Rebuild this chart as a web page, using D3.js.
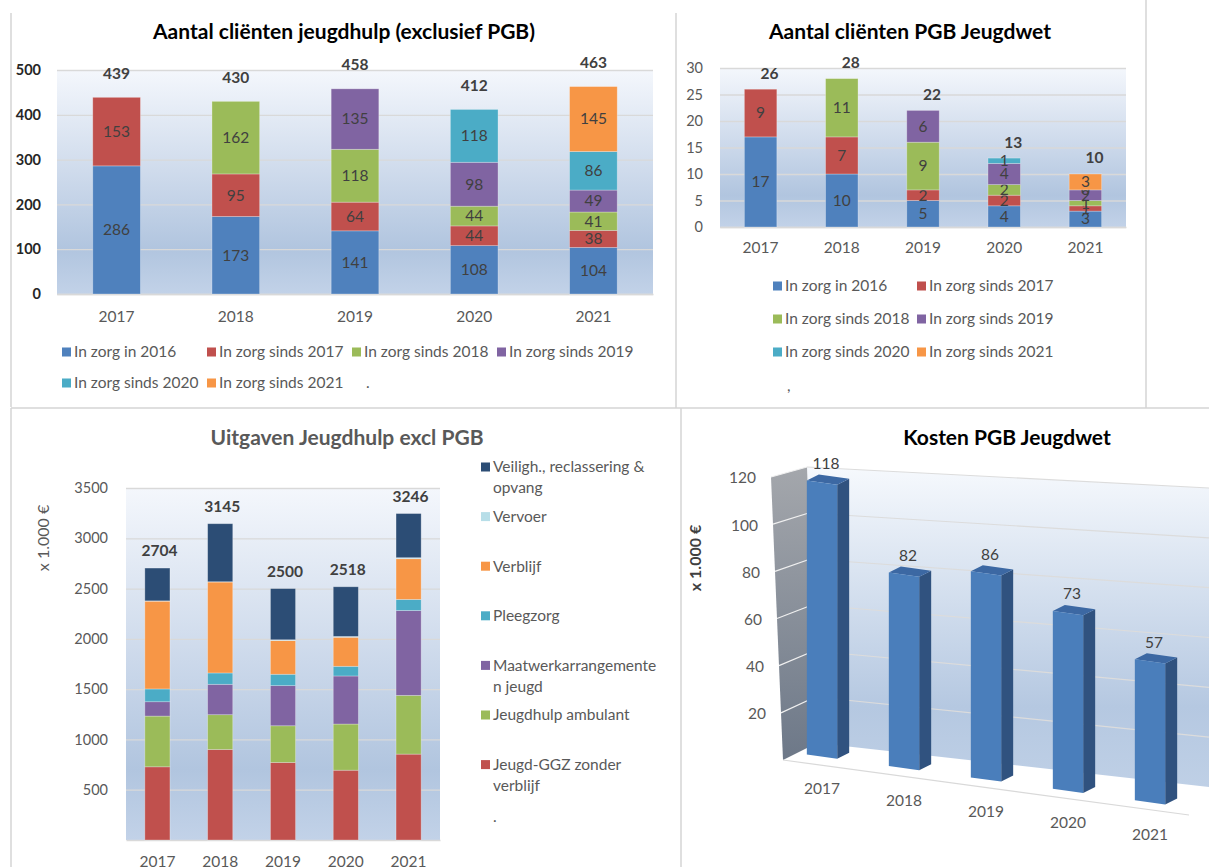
<!DOCTYPE html>
<html><head><meta charset="utf-8">
<script src="https://cdn.jsdelivr.net/npm/d3@7"></script>
<style>
html,body{margin:0;padding:0;background:#fff;}
svg{display:block;}
</style></head><body>
<svg id="c" width="1209" height="867"></svg>
<script>
// ---------- DATA ----------
const years = ["2017","2018","2019","2020","2021"];

// Chart 1: Aantal cliënten jeugdhulp (exclusief PGB)
const c1Names = ["In zorg in 2016","In zorg sinds 2017","In zorg sinds 2018","In zorg sinds 2019","In zorg sinds 2020","In zorg sinds 2021"];
const c1In2016    = [286,173,141,108,104];
const c1Since2017 = [153,95,64,44,38];
const c1Since2018 = [null,162,118,44,41];
const c1Since2019 = [null,null,135,98,49];
const c1Since2020 = [null,null,null,118,86];
const c1Since2021 = [null,null,null,null,145];
const c1Totals    = [439,430,458,412,463];
const c1Ticks     = [0,100,200,300,400,500];

// Chart 2: Aantal cliënten PGB Jeugdwet
const c2Names = c1Names;
const c2In2016    = [17,10,5,4,3];
const c2Since2017 = [9,7,2,2,1];
const c2Since2018 = [null,11,9,2,1];
const c2Since2019 = [null,null,6,4,2];
const c2Since2020 = [null,null,null,1,0];
const c2Since2021 = [null,null,null,null,3];
const c2Totals    = [26,28,22,13,10];
const c2Ticks     = [0,5,10,15,20,25,30];

// Chart 3: Uitgaven Jeugdhulp excl PGB (x 1.000 €)
const c3Names = ["Jeugd-GGZ zonder\nverblijf","Jeugdhulp ambulant","Maatwerkarrangemente\nn jeugd","Pleegzorg","Verblijf","Vervoer","Veiligh., reclassering &\nopvang"];
const c3Ggz       = [728,900,771,694,854];
const c3Ambulant  = [504,346,365,459,584];
const c3Maatwerk  = [143,302,399,478,844];
const c3Pleegzorg = [127,113,113,96,110];
const c3Verblijf  = [873,904,335,289,405];
const c3Vervoer   = [3,3,8,8,10];
const c3Veiligh   = [326,577,509,494,439];
const c3Totals    = [2704,3145,2500,2518,3246];
const c3Ticks     = [500,1000,1500,2000,2500,3000,3500];

// Chart 4: Kosten PGB Jeugdwet (x 1.000 €)
const c4Costs = [118,82,86,73,57];
const c4Ticks = [20,40,60,80,100,120];

// ---------- STYLE ----------
const FONT = "Lato, 'Open Sans', 'DejaVu Sans', sans-serif";
const FS = 15.5;
const colors6 = ["#4f81bd","#c0504d","#9bbb59","#8064a2","#4bacc6","#f79646"];
const colors7 = ["#c0504d","#9bbb59","#8064a2","#4bacc6","#f79646","#b7dee8","#2c4d75"];

const svg = d3.select("#c").attr("font-family", FONT);
const defs = svg.append("defs");
function vgrad(id, stops){
  const lg = defs.append("linearGradient").attr("id",id).attr("x1",0).attr("y1",0).attr("x2",0).attr("y2",1);
  stops.forEach(([o,c])=>lg.append("stop").attr("offset",o).attr("stop-color",c));
}
vgrad("plotbg", [[0,"#f4f7fc"],[0.45,"#cfdbec"],[0.8,"#b1c5df"],[1,"#c2d2e8"]]);
vgrad("wallbg", [[0,"#f6f9fd"],[0.75,"#b5c8e1"],[1,"#bfd0e6"]]);
vgrad("sidebg", [[0,"#a4a7ac"],[1,"#6d7888"]]);

// panel borders
const bcol = "#d4d4d4";
[[11,13,11,407],[11,408,1209,408],[676,13,676,408],[1146,0,1146,408],[11,408,11,867],[681,408,681,867]]
  .forEach(([x1,y1,x2,y2])=>svg.append("line").attr("x1",x1).attr("y1",y1).attr("x2",x2).attr("y2",y2)
    .attr("stroke",bcol).attr("stroke-width",1.5));

function title(txt, x, y, color){
  svg.append("text").attr("x",x).attr("y",y).attr("dy","0.35em").attr("text-anchor","middle")
    .attr("font-size",21).attr("font-weight","bold").attr("fill",color).text(txt);
}

function stackedChart(c){
  const g = svg.append("g");
  const x = d3.scaleBand().domain(years).range(c.xRange).paddingInner(c.pad).paddingOuter(c.pad/2);
  const y = d3.scaleLinear().domain(c.yDomain).range(c.yRange);
  const w = c.xRange[1]-c.xRange[0];
  g.append("rect").attr("x",c.xRange[0]).attr("y",c.yRange[1]).attr("width",w)
    .attr("height",c.yRange[0]-c.yRange[1]).attr("fill","url(#plotbg)");
  const ya = g.append("g").attr("transform",`translate(${c.xRange[0]},0)`)
    .call(d3.axisLeft(y).tickValues(c.ticks).tickFormat(d3.format("d")).tickSize(-w).tickPadding(c.tickPad));
  ya.attr("font-family",null).attr("font-size",null);
  ya.select(".domain").remove();
  ya.selectAll(".tick line").attr("stroke","#d9d9d9").attr("stroke-width",1.3);
  ya.selectAll(".tick text").attr("fill",c.tickColor).attr("font-size",c.tickSize).attr("font-weight",c.tickWeight);
  const xa = g.append("g").attr("transform",`translate(0,${c.yRange[0]})`)
    .call(d3.axisBottom(x).tickSize(0));
  xa.attr("font-family",null).attr("font-size",null);
  xa.select(".domain").attr("stroke","#d9d9d9").attr("stroke-width",1.3);
  xa.selectAll(".tick text").attr("y",c.xLabelOff).attr("dy","0.35em").attr("fill","#595959").attr("font-size",FS);

  const keys = c.series.map((s,k)=>"s"+k);
  const rows = years.map((yr,i)=>{const o={year:yr}; c.series.forEach((s,k)=>o["s"+k]= s[i]==null?0:s[i]); return o;});
  const layers = d3.stack().keys(keys)(rows);
  layers.forEach((layer,k)=>{
    const pts = layer.map((d,i)=>({d, i, v:c.series[k][i]})).filter(p=>p.v!=null);
    g.selectAll(null).data(pts).enter().append("rect")
      .attr("x",p=>x(years[p.i])).attr("width",x.bandwidth())
      .attr("y",p=>y(p.d[1])).attr("height",p=>Math.max(0,y(p.d[0])-y(p.d[1])))
      .attr("fill",c.colors[k]).attr("stroke","rgba(255,255,255,0.35)").attr("stroke-width",0.8);
    if (c.segLabels){
      g.selectAll(null).data(pts).enter().append("text")
        .attr("x",p=>x(years[p.i])+x.bandwidth()/2).attr("y",p=>(y(p.d[0])+y(p.d[1]))/2)
        .attr("dy","0.35em").attr("text-anchor","middle").attr("font-size",FS)
        .attr("fill","#404040").text(p=>p.v);
    }
  });
  g.selectAll(null).data(c.totals).enter().append("text")
    .attr("x",(t,i)=>x(years[i])+x.bandwidth()/2+c.totDx).attr("y",t=>y(t)-c.totDy)
    .attr("dy","0.35em").attr("text-anchor","middle").attr("font-size",FS)
    .attr("font-weight","bold").attr("fill","#404040").text(t=>t);
  return {x,y,g};
}

function legend(names, colors, x0, y0, colW, rowH, nCols, lineH){
  names.forEach((n,i)=>{
    const cx = x0 + (i % nCols)*colW, cy = y0 + Math.floor(i / nCols)*rowH;
    svg.append("rect").attr("x",cx).attr("y",cy-4.5).attr("width",9).attr("height",9).attr("fill",colors[i]);
    const t = svg.append("text").attr("x",cx+12).attr("y",cy).attr("font-size",FS).attr("fill","#595959");
    n.split("\n").forEach((ln,j)=>t.append("tspan").attr("x",cx+12).attr("dy", j===0? "0.35em" : lineH).text(ln));
  });
}

// ---------- CHART 1 ----------
title("Aantal cliënten jeugdhulp (exclusief PGB)", 344, 32, "#000");
stackedChart({
  series:[c1In2016,c1Since2017,c1Since2018,c1Since2019,c1Since2020,c1Since2021],
  colors:colors6, totals:c1Totals, xRange:[57,653], pad:0.6, yDomain:[0,500], yRange:[294,70],
  ticks:c1Ticks, tickPad:16, tickColor:"#262626", tickSize:14.5, tickWeight:"bold",
  xLabelOff:23, segLabels:true, totDx:0, totDy:24
});
legend(c1Names, colors6, 62, 352, 145, 31, 4, 0);
svg.append("text").attr("x",366).attr("y",383).attr("dy","0.35em").attr("font-size",FS).attr("fill","#595959").text(".");

// ---------- CHART 2 ----------
title("Aantal cliënten PGB Jeugdwet", 910, 32, "#000");
stackedChart({
  series:[c2In2016,c2Since2017,c2Since2018,c2Since2019,c2Since2020,c2Since2021],
  colors:colors6, totals:c2Totals, xRange:[720,1126], pad:0.6, yDomain:[0,30], yRange:[227,68],
  ticks:c2Ticks, tickPad:17, tickColor:"#595959", tickSize:14.5, tickWeight:"normal",
  xLabelOff:21, segLabels:true, totDx:9, totDy:16
});
legend(c2Names, colors6, 773, 286, 144, 33, 2, 0);
svg.append("text").attr("x",787).attr("y",386).attr("dy","0.35em").attr("font-size",FS).attr("fill","#595959").text(",");

// ---------- CHART 3 ----------
title("Uitgaven Jeugdhulp excl PGB", 347, 438, "#595959");
stackedChart({
  series:[c3Ggz,c3Ambulant,c3Maatwerk,c3Pleegzorg,c3Verblijf,c3Vervoer,c3Veiligh],
  colors:colors7, totals:c3Totals, xRange:[126,440], pad:0.6, yDomain:[0,3500], yRange:[840,488],
  ticks:c3Ticks, tickPad:18, tickColor:"#595959", tickSize:14.5, tickWeight:"normal",
  xLabelOff:22, segLabels:false, totDx:2, totDy:17
});
svg.append("text").attr("transform","translate(43,538) rotate(-90)").attr("dy","0.35em")
  .attr("text-anchor","middle").attr("font-size",16).attr("fill","#595959").text("x 1.000 €");
legend(c3Names.slice().reverse(), colors7.slice().reverse(), 481, 467, 0, 49.6, 1, 21);
svg.append("text").attr("x",493).attr("y",817).attr("dy","0.35em").attr("font-size",FS).attr("fill","#595959").text(".");

// ---------- CHART 4 (pseudo 3D) ----------
title("Kosten PGB Jeugdwet", 1007, 438, "#000");
(function(){
  const g = svg.append("g");
  const vMax = 120;
  const sLX = d3.scaleLinear().domain([0,vMax]).range([783,771]);
  const sLY = d3.scaleLinear().domain([0,vMax]).range([760,477]);
  const sRX = d3.scaleLinear().domain([0,vMax]).range([817,807]);
  const sRY = d3.scaleLinear().domain([0,vMax]).range([743,467]);
  const bRX = 1209;
  const bRY = d3.scaleLinear().domain([0,vMax]).range([787,488]);
  const line = d3.line();
  g.append("path").attr("d", line([[sRX(vMax),sRY(vMax)],[bRX,bRY(vMax)],[bRX,bRY(0)],[sRX(0),sRY(0)]])+"Z")
    .attr("fill","url(#wallbg)");
  g.append("path").attr("d", line([[sLX(vMax),sLY(vMax)],[sRX(vMax),sRY(vMax)],[sRX(0),sRY(0)],[sLX(0),sLY(0)]])+"Z")
    .attr("fill","url(#sidebg)");
  g.selectAll(null).data(c4Ticks).enter().append("path")
    .attr("d",v=>line([[sRX(v),sRY(v)],[bRX,bRY(v)]])).attr("stroke","#dcdcdc").attr("stroke-width",1.2).attr("fill","none");
  g.selectAll(null).data(c4Ticks).enter().append("path")
    .attr("d",v=>line([[sLX(v),sLY(v)],[sRX(v),sRY(v)]])).attr("stroke","#f0f0f0").attr("stroke-width",1.2).attr("fill","none");
  g.append("path").attr("d",line([[sLX(0),sLY(0)],[1189,815]])).attr("stroke","#d9d9d9").attr("stroke-width",1.2);
  g.selectAll(null).data(c4Ticks).enter().append("text")
    .attr("x",v=>sLX(v)-15).attr("y",v=>sLY(v)+1).attr("dy","0.35em").attr("text-anchor","end")
    .attr("font-size",FS).attr("fill","#595959").text(v=>v);
  svg.append("text").attr("transform","translate(695,558) rotate(-90)").attr("dy","0.35em")
    .attr("text-anchor","middle").attr("font-size",16).attr("font-weight","bold").attr("fill","#404040").text("x 1.000 €");

  const x = d3.scaleBand().domain(years).range([781,1191]).paddingInner(0.63).paddingOuter(0.315);
  const floorY = d3.scaleLinear().domain([781,1191]).range([751,808]);
  const pxPerUnit = d3.scaleLinear().domain([781,1191]).range([2.31,2.50]);
  const dx = 12, dy = -6;
  c4Costs.forEach((v,i)=>{
    const xl = x(years[i]), xr = xl + x.bandwidth();
    const yS = d3.scaleLinear().domain([0,vMax]).range([floorY(xl), floorY(xl) - vMax*pxPerUnit(xl)]);
    const h = floorY(xl) - yS(v);
    const bl=[xl,floorY(xl)], br=[xr,floorY(xr)], tl=[xl,floorY(xl)-h], tr=[xr,floorY(xr)-h];
    g.append("path").attr("d",line([br,[br[0]+dx,br[1]+dy],[tr[0]+dx,tr[1]+dy],tr])+"Z").attr("fill","#30527f");
    g.append("path").attr("d",line([tl,tr,[tr[0]+dx,tr[1]+dy],[tl[0]+dx,tl[1]+dy]])+"Z").attr("fill","#3c68a3");
    g.append("path").attr("d",line([bl,br,tr,tl])+"Z").attr("fill","#4a7ebb");
    const cx = (xl+xr)/2;
    g.append("text").attr("x",cx+4).attr("y",(tl[1]+tr[1])/2-19).attr("dy","0.35em").attr("text-anchor","middle")
      .attr("font-size",FS).attr("fill","#404040").text(v);
    g.append("text").attr("x",cx).attr("y",floorY(cx)+32).attr("dy","0.35em").attr("text-anchor","middle")
      .attr("font-size",FS).attr("fill","#595959").text(years[i]);
  });
})();
</script>
</body></html>
